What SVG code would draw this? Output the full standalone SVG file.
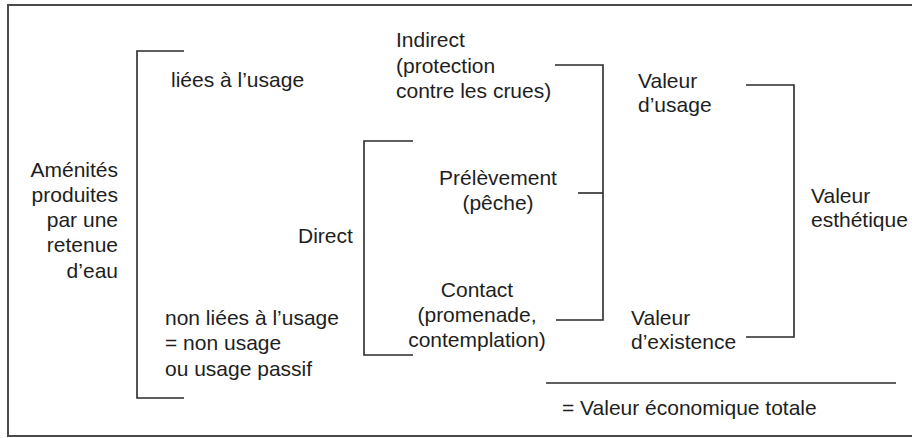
<svg xmlns="http://www.w3.org/2000/svg" width="912" height="438" viewBox="0 0 912 438">
<style>
text{font-family:"Liberation Sans",Arial,sans-serif;font-size:21px;fill:#1e1e1e}
.c{text-anchor:middle}
.r{text-anchor:end}
.ln{fill:none;stroke:#2a2a2a;stroke-width:1.6}
.frame{fill:#fff;stroke:#4a4a4a;stroke-width:2}
</style>
<rect class="frame" x="8" y="5" width="910" height="431"/>
<g id="connectors">
<polyline class="ln" points="184,51 137,51 137,398 184,398"/>
<polyline class="ln" points="413,141 364,141 364,355 413,355"/>
<polyline class="ln" points="555,65 603,65 603,320 556,320"/>
<line class="ln" x1="578" y1="193" x2="603" y2="193"/>
<polyline class="ln" points="746,85 794,85 794,337 746,337"/>
<line class="ln" x1="546" y1="383" x2="896" y2="383"/>
</g>
<g id="amenites"><text class="r" x="118"><tspan x="118" y="177">Aménités</tspan><tspan x="118" y="202">produites</tspan><tspan x="118" y="227">par une</tspan><tspan x="118" y="252">retenue</tspan><tspan x="118" y="278">d’eau</tspan></text></g>
<g id="liees"><text x="171" y="87">liées à l’usage</text></g>
<g id="non-liees"><text><tspan x="165" y="325">non liées à l’usage</tspan><tspan x="165" y="350">= non usage</tspan><tspan x="165" y="376">ou usage passif</tspan></text></g>
<g id="direct"><text x="298" y="243">Direct</text></g>
<g id="indirect"><text><tspan x="396" y="47">Indirect</tspan><tspan x="396" y="73">(protection</tspan><tspan x="396" y="98">contre les crues)</tspan></text></g>
<g id="prelevement"><text class="c"><tspan x="498" y="185">Prélèvement</tspan><tspan x="498" y="210">(pêche)</tspan></text></g>
<g id="contact"><text class="c"><tspan x="477" y="297">Contact</tspan><tspan x="477" y="322">(promenade,</tspan><tspan x="477" y="347">contemplation)</tspan></text></g>
<g id="valeur-usage"><text><tspan x="638" y="88">Valeur</tspan><tspan x="638" y="112">d’usage</tspan></text></g>
<g id="valeur-existence"><text><tspan x="631" y="325">Valeur</tspan><tspan x="631" y="349">d’existence</tspan></text></g>
<g id="valeur-esthetique"><text><tspan x="811" y="203">Valeur</tspan><tspan x="811" y="227">esthétique</tspan></text></g>
<g id="vet"><text x="562" y="415">= Valeur économique totale</text></g>
</svg>
